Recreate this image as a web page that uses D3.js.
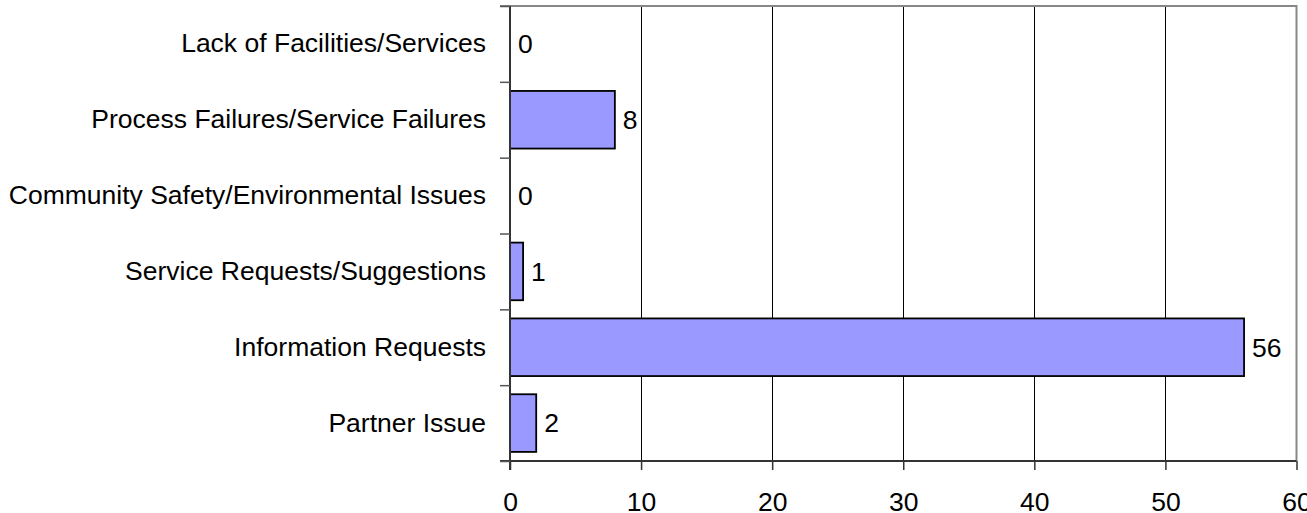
<!DOCTYPE html>
<html>
<head>
<meta charset="utf-8">
<script src="https://cdn.jsdelivr.net/npm/d3@7"></script>
<style>
  html, body { margin: 0; padding: 0; background: #fff; }
  svg { display: block; font-family: "Liberation Sans", Arial, sans-serif; }
</style>
</head>
<body>
<svg id="chart" width="1307" height="513"></svg>
<script>
// Complaint categories, top to bottom, with their counts
const categories = [
  "Lack of Facilities/Services",
  "Process Failures/Service Failures",
  "Community Safety/Environmental Issues",
  "Service Requests/Suggestions",
  "Information Requests",
  "Partner Issue"
];
const counts = [0, 8, 0, 1, 56, 2];
const xTicks = [0, 10, 20, 30, 40, 50, 60];

const svg = d3.select("#chart");
const plotLeft = 510, plotRight = 1296.5, plotTop = 6, plotBottom = 461;
const fontSize = 26.5;

const x = d3.scaleLinear().domain([0, 60]).range([plotLeft, plotRight]);
const y = d3.scaleBand().domain(categories).range([plotTop, plotBottom])
  .paddingInner(0.24).paddingOuter(0.12);
const yEdge = d3.scaleLinear().domain([0, categories.length]).range([plotTop, plotBottom]);

// vertical gridlines
svg.append("g")
  .selectAll("line")
  .data(xTicks.filter(t => t > 0 && t < 60))
  .join("line")
  .attr("x1", d => x(d)).attr("x2", d => x(d))
  .attr("y1", plotTop).attr("y2", plotBottom)
  .attr("stroke", "#000").attr("stroke-width", 1)
  .attr("shape-rendering", "crispEdges");

// plot frame, top and right
svg.append("path")
  .attr("d", `M${plotLeft - 10},${plotTop}H${plotRight}V${plotBottom}`)
  .attr("fill", "none").attr("stroke", "#888").attr("stroke-width", 2);

// bars
svg.append("g")
  .selectAll("rect")
  .data(categories)
  .join("rect")
  .attr("x", x(0))
  .attr("y", d => y(d))
  .attr("width", (d, i) => x(counts[i]) - x(0))
  .attr("height", y.bandwidth())
  .attr("fill", "#9999FF")
  .attr("stroke", "#000")
  .attr("stroke-width", 1.8);

// value labels
svg.append("g")
  .selectAll("text")
  .data(categories)
  .join("text")
  .attr("x", (d, i) => x(counts[i]) + 8)
  .attr("y", d => y(d) + y.bandwidth() / 2)
  .attr("dy", "0.35em")
  .attr("font-size", fontSize)
  .attr("fill", "#000")
  .text((d, i) => counts[i]);

// bottom axis
const xAxis = svg.append("g")
  .attr("transform", `translate(0,${plotBottom})`)
  .call(d3.axisBottom(x).tickValues(xTicks).tickSize(9).tickPadding(22).tickSizeOuter(0));
xAxis.select(".domain").attr("stroke", "#333").attr("stroke-width", 2)
  .attr("d", `M${plotLeft - 10},0H${plotRight}`);
xAxis.selectAll(".tick line").attr("stroke", "#333").attr("stroke-width", 1.5);
xAxis.selectAll(".tick text")
  .attr("font-size", fontSize).attr("font-family", "Liberation Sans, Arial, sans-serif")
  .attr("fill", "#000");

// left axis: boundary ticks between categories
const yTicks = svg.append("g")
  .attr("transform", `translate(${plotLeft},0)`)
  .call(d3.axisLeft(yEdge).tickValues(d3.range(categories.length + 1)).tickSize(10).tickFormat("").tickSizeOuter(0));
yTicks.select(".domain").attr("stroke", "#333").attr("stroke-width", 2)
  .attr("d", `M0,${plotTop}V${plotBottom + 9}`);
yTicks.selectAll(".tick line").attr("stroke", "#555").attr("stroke-width", 1.5);

// category labels
const yLabels = svg.append("g")
  .attr("transform", `translate(${plotLeft},0)`)
  .call(d3.axisLeft(y).tickSize(0).tickPadding(24));
yLabels.select(".domain").remove();
yLabels.selectAll(".tick text")
  .attr("font-size", fontSize).attr("font-family", "Liberation Sans, Arial, sans-serif")
  .attr("fill", "#000");
</script>
</body>
</html>
